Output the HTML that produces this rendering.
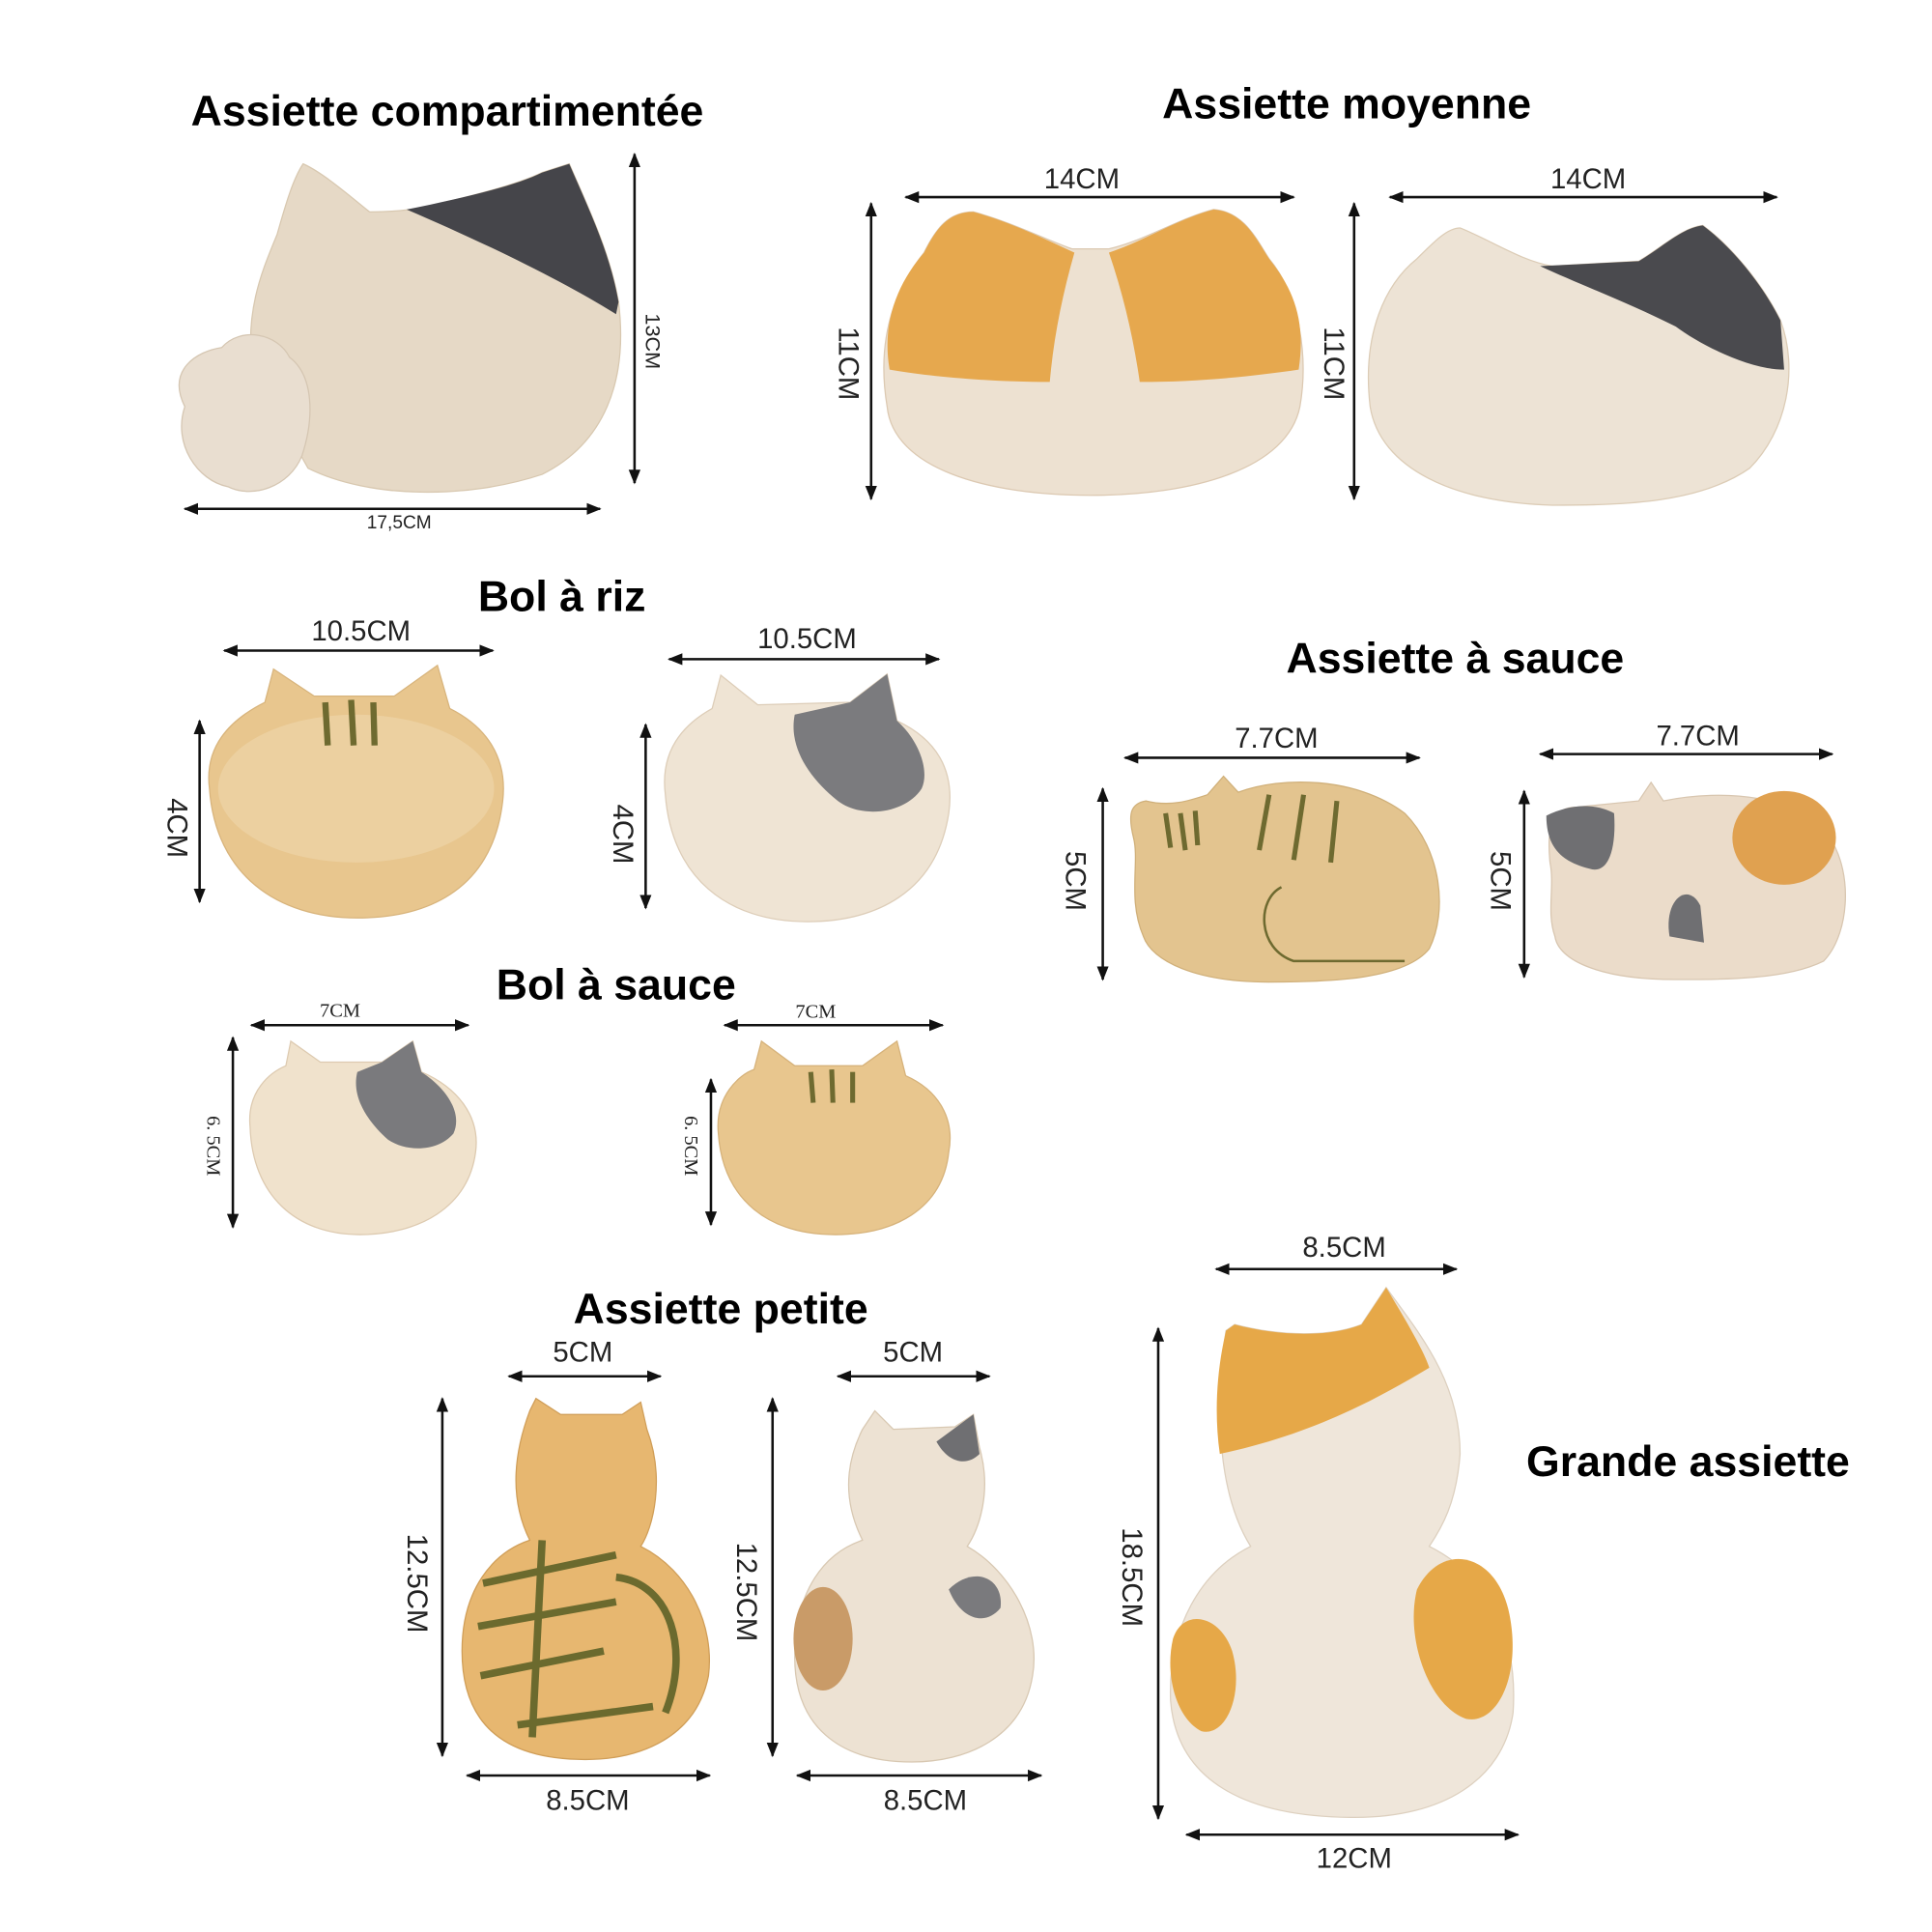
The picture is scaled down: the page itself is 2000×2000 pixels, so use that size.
<!DOCTYPE html>
<html><head><meta charset="utf-8"><style>
html,body{margin:0;padding:0;background:#fff}
svg{display:block}
.t{font-family:"Liberation Sans",Arial,sans-serif;font-weight:bold;font-size:35px;text-anchor:middle;fill:#000}
.d{font-family:"Liberation Sans",sans-serif;font-size:23px;text-anchor:middle;fill:#222}
.s{font-family:"Liberation Serif",serif;font-size:16px;text-anchor:middle;fill:#222}
.ln{stroke:#111;stroke-width:2;fill:none}
</style></head><body>
<svg width="2000" height="2000" viewBox="0 0 1568 1568" xmlns="http://www.w3.org/2000/svg">
<defs>
<marker id="a" viewBox="0 0 10 10" refX="9" refY="5" markerWidth="6" markerHeight="6" orient="auto-start-reverse"><path d="M0,1 L10,5 L0,9 Z" fill="#111"/></marker>
</defs>
<g class="ln" marker-start="url(#a)" marker-end="url(#a)">
<line x1="150" y1="413" x2="487" y2="413"/><line x1="515" y1="125" x2="515" y2="392"/>
<line x1="735" y1="160" x2="1050" y2="160"/><line x1="707" y1="165" x2="707" y2="405"/>
<line x1="1128" y1="160" x2="1442" y2="160"/><line x1="1099" y1="165" x2="1099" y2="405"/>
<line x1="182" y1="528" x2="400" y2="528"/><line x1="162" y1="585" x2="162" y2="732"/>
<line x1="543" y1="535" x2="762" y2="535"/><line x1="524" y1="588" x2="524" y2="737"/>
<line x1="913" y1="615" x2="1152" y2="615"/><line x1="895" y1="640" x2="895" y2="795"/>
<line x1="1250" y1="612" x2="1487" y2="612"/><line x1="1237" y1="642" x2="1237" y2="793"/>
<line x1="204" y1="832" x2="380" y2="832"/><line x1="189" y1="842" x2="189" y2="996"/>
<line x1="588" y1="832" x2="765" y2="832"/><line x1="577" y1="876" x2="577" y2="994"/>
<line x1="413" y1="1117" x2="536" y2="1117"/><line x1="359" y1="1135" x2="359" y2="1425"/><line x1="379" y1="1441" x2="576" y2="1441"/>
<line x1="680" y1="1117" x2="803" y2="1117"/><line x1="627" y1="1135" x2="627" y2="1425"/><line x1="647" y1="1441" x2="845" y2="1441"/>
<line x1="987" y1="1030" x2="1182" y2="1030"/><line x1="940" y1="1078" x2="940" y2="1476"/><line x1="963" y1="1489" x2="1232" y2="1489"/>
</g>
<text class="t" x="363" y="102">Assiette compartimentée</text>
<text class="t" x="1093" y="96">Assiette moyenne</text>
<text class="t" x="456" y="496">Bol à riz</text>
<text class="t" x="1181" y="546">Assiette à sauce</text>
<text class="t" x="500" y="811">Bol à sauce</text>
<text class="t" x="585" y="1074">Assiette petite</text>
<text class="t" x="1370" y="1198">Grande assiette</text>
<g class="d">
<text x="324" y="429" style="font-size:15px">17,5CM</text>
<text x="878" y="153">14CM</text><text x="1289" y="153">14CM</text>
<text x="293" y="520">10.5CM</text><text x="655" y="526">10.5CM</text>
<text x="1036" y="607">7.7CM</text><text x="1378" y="605">7.7CM</text>
<text x="473" y="1105">5CM</text><text x="741" y="1105">5CM</text>
<text x="477" y="1469">8.5CM</text><text x="751" y="1469">8.5CM</text>
<text x="1091" y="1020">8.5CM</text><text x="1099" y="1516">12CM</text>
<text transform="translate(524,277) rotate(90)" style="font-size:17px">13CM</text>
<text transform="translate(681,295) rotate(90)">11CM</text>
<text transform="translate(1075,295) rotate(90)">11CM</text>
<text transform="translate(136,672) rotate(90)">4CM</text>
<text transform="translate(498,677) rotate(90)">4CM</text>
<text transform="translate(865,715) rotate(90)">5CM</text>
<text transform="translate(1210,715) rotate(90)">5CM</text>
<text transform="translate(331,1285) rotate(90)">12.5CM</text>
<text transform="translate(598,1292) rotate(90)">12.5CM</text>
<text transform="translate(911,1280) rotate(90)">18.5CM</text>
</g>
<g class="s"><text x="276" y="825">7CM</text><text x="662" y="826">7CM</text>
<text transform="translate(168,930) rotate(90)">6. 5CM</text><text transform="translate(556,930) rotate(90)">6. 5CM</text></g>

<!-- compartment plate -->
<path d="M205,300 C198,250 215,215 225,190 C232,165 238,145 246,133 C262,140 285,160 300,172 C320,172 335,170 345,168 C380,160 420,150 440,140 L462,133 C478,170 495,205 502,245 C510,310 490,360 440,385 C380,405 300,405 250,380 Z" fill="#e6d9c6" stroke="#d8c8b0"/>
<path d="M330,170 C380,160 420,150 440,140 L462,133 C478,170 495,205 502,245 L500,255 C460,230 400,200 330,170Z" fill="#45454a"/>
<path d="M150,330 C135,300 160,285 180,282 C195,265 225,270 235,290 C255,305 255,340 245,370 C235,395 205,405 185,395 C160,390 140,360 150,330Z" fill="#e9ded0" stroke="#d5c6b2"/>

<!-- moyenne 1 -->
<path d="M720,330 C710,270 730,230 750,205 C760,185 770,172 790,172 C820,180 850,195 870,202 L900,202 C930,195 955,178 985,170 C1010,172 1020,195 1030,210 C1055,240 1062,290 1055,330 C1045,380 970,402 885,402 C800,402 725,380 720,330Z" fill="#ede1d1" stroke="#dcc9b2"/>
<path d="M722,300 C715,260 730,228 750,205 C760,185 770,172 790,172 C820,180 850,195 872,205 C862,240 855,275 852,310 C800,310 750,305 722,300Z" fill="#e6a84e"/>
<path d="M1054,300 C1060,260 1050,235 1030,210 C1020,195 1010,172 985,170 C955,178 930,195 900,205 C912,240 920,275 925,310 C975,310 1020,305 1054,300Z" fill="#e6a84e"/>
<!-- moyenne 2 -->
<path d="M1112,330 C1105,270 1125,230 1150,210 C1165,195 1175,185 1185,185 C1210,195 1235,212 1260,216 L1330,212 C1350,200 1365,185 1382,183 C1405,200 1430,230 1445,260 C1460,300 1450,350 1420,380 C1380,408 1320,410 1260,410 C1180,408 1120,380 1112,330Z" fill="#ede3d5" stroke="#dcccb6"/>
<path d="M1250,216 L1330,212 C1350,200 1365,185 1382,183 C1405,200 1430,230 1445,260 L1448,300 C1420,300 1380,280 1360,265 C1320,245 1280,230 1250,216Z" fill="#4a4a4e"/>

<!-- bowl rice 1 -->
<path d="M170,640 C165,600 195,580 215,570 L222,543 L255,565 L320,565 L355,540 L365,575 C395,590 412,615 408,650 C400,720 350,745 290,745 C225,745 175,710 170,640Z" fill="#e8c68e" stroke="#d8b47c"/>
<ellipse cx="289" cy="640" rx="112" ry="60" fill="#ecd0a0"/>
<g stroke="#6e6a30" stroke-width="5"><line x1="264" y1="570" x2="266" y2="605"/><line x1="285" y1="568" x2="287" y2="605"/><line x1="303" y1="570" x2="304" y2="605"/></g>
<!-- bowl rice 2 -->
<path d="M540,645 C535,605 560,585 578,575 L585,548 L615,572 L690,570 L720,547 L728,585 C760,600 775,625 770,660 C760,725 710,748 655,748 C590,748 545,712 540,645Z" fill="#efe4d4" stroke="#ddcdb8"/>
<path d="M645,580 L690,570 L720,547 L728,585 C745,600 755,625 748,640 C735,660 700,665 680,650 C655,630 640,605 645,580Z" fill="#7b7b7e"/>

<!-- sauce plate 1 -->
<path d="M920,680 C915,660 918,652 930,650 C950,655 965,650 980,645 L993,630 L1005,643 C1040,630 1100,630 1140,660 C1170,690 1175,740 1160,770 C1140,795 1080,797 1030,797 C970,797 935,780 928,760 C915,730 925,700 920,680Z" fill="#e3c48f" stroke="#d0b07a"/>
<g stroke="#6e6a30" stroke-width="4" fill="none"><line x1="946" y1="660" x2="950" y2="688"/><line x1="958" y1="660" x2="962" y2="690"/><line x1="970" y1="658" x2="972" y2="686"/><line x1="1030" y1="645" x2="1022" y2="690"/><line x1="1058" y1="645" x2="1050" y2="698"/><line x1="1085" y1="650" x2="1080" y2="700"/>
<path d="M1040,720 C1020,730 1020,770 1050,780 L1140,780" stroke-width="2"/></g>
<!-- sauce plate 2 -->
<path d="M1258,700 C1255,670 1260,655 1280,655 L1330,650 L1340,635 L1350,650 C1400,640 1460,645 1485,680 C1505,710 1500,760 1480,780 C1450,795 1400,795 1360,795 C1300,795 1265,780 1262,760 C1255,740 1262,720 1258,700Z" fill="#ebdcca" stroke="#d8c6b0"/>
<path d="M1255,662 C1275,652 1295,652 1310,660 C1312,690 1305,710 1290,705 C1270,700 1255,690 1255,662Z" fill="#6f6f72"/>
<ellipse cx="1448" cy="680" rx="42" ry="38" fill="#e0a150"/>
<path d="M1355,760 C1350,730 1370,715 1380,735 L1383,765 Z" fill="#6f6f72"/>

<!-- bowl sauce 1 -->
<path d="M203,915 C200,885 220,870 232,865 L236,845 L260,862 L310,862 L335,845 L342,870 C370,882 390,905 386,935 C380,980 340,1002 292,1002 C240,1002 205,970 203,915Z" fill="#f0e2cc" stroke="#ddcab0"/>
<path d="M290,870 L310,862 L335,845 L342,870 C365,885 375,905 368,920 C355,935 330,935 315,925 C298,910 285,890 290,870Z" fill="#7a7a7d"/>
<!-- bowl sauce 2 -->
<path d="M583,920 C580,890 600,872 612,868 L618,845 L645,865 L700,865 L728,845 L735,873 C762,885 775,908 770,935 C765,982 725,1002 678,1002 C625,1002 587,975 583,920Z" fill="#e8c68e" stroke="#d6b27a"/>
<g stroke="#6e6a30" stroke-width="4"><line x1="658" y1="870" x2="660" y2="895"/><line x1="675" y1="868" x2="676" y2="895"/><line x1="692" y1="870" x2="692" y2="895"/></g>

<!-- petite 1 -->
<path d="M430,1145 L435,1135 L455,1148 L505,1148 L520,1138 L525,1160 C540,1200 530,1240 520,1255 C560,1275 580,1320 575,1360 C565,1410 520,1428 475,1428 C410,1428 375,1400 375,1340 C375,1290 400,1260 430,1250 C415,1220 415,1185 430,1145Z" fill="#e7b770" stroke="#d09e58"/>
<g stroke="#6b6a2e" stroke-width="6" fill="none"><path d="M392,1285 L500,1262"/><path d="M388,1320 L500,1300"/><path d="M390,1360 L490,1340"/><path d="M420,1400 L530,1385"/><path d="M440,1250 L432,1410"/><path d="M500,1280 C545,1285 560,1340 540,1390"/></g>
<!-- petite 2 -->
<path d="M700,1160 L710,1145 L725,1160 L775,1158 L790,1148 L795,1175 C805,1210 795,1240 785,1255 C820,1275 845,1320 838,1360 C830,1410 785,1430 740,1430 C680,1430 645,1400 645,1345 C645,1290 670,1260 700,1250 C685,1220 685,1190 700,1160Z" fill="#ede2d3" stroke="#d8c8b2"/>
<path d="M760,1170 L790,1148 L795,1180 C785,1190 770,1188 760,1170Z" fill="#6f6f72"/>
<ellipse cx="668" cy="1330" rx="24" ry="42" fill="#c99b68"/>
<path d="M770,1290 C790,1270 815,1280 812,1305 C800,1320 780,1315 770,1290Z" fill="#7a7a7d"/>

<!-- grande -->
<path d="M995,1080 L1002,1075 C1040,1085 1080,1085 1105,1075 L1125,1045 C1150,1080 1185,1120 1185,1180 C1182,1220 1170,1240 1160,1255 C1210,1280 1232,1330 1228,1390 C1220,1445 1170,1475 1100,1475 C1010,1475 955,1445 950,1380 C948,1320 975,1275 1015,1255 C990,1215 985,1150 995,1080Z" fill="#efe6da" stroke="#ddd0bf"/>
<path d="M995,1080 L1002,1075 C1040,1085 1080,1085 1105,1075 L1125,1045 C1140,1070 1155,1095 1160,1110 C1110,1140 1060,1165 990,1180 C985,1145 988,1110 995,1080Z" fill="#e6a848"/>
<path d="M1150,1290 C1170,1250 1215,1260 1225,1310 C1235,1360 1215,1400 1190,1395 C1160,1385 1140,1330 1150,1290Z" fill="#e6a848"/>
<path d="M952,1330 C960,1305 990,1310 1000,1340 C1010,1375 995,1410 975,1405 C955,1395 945,1360 952,1330Z" fill="#e6a848"/>
</svg>
</body></html>
